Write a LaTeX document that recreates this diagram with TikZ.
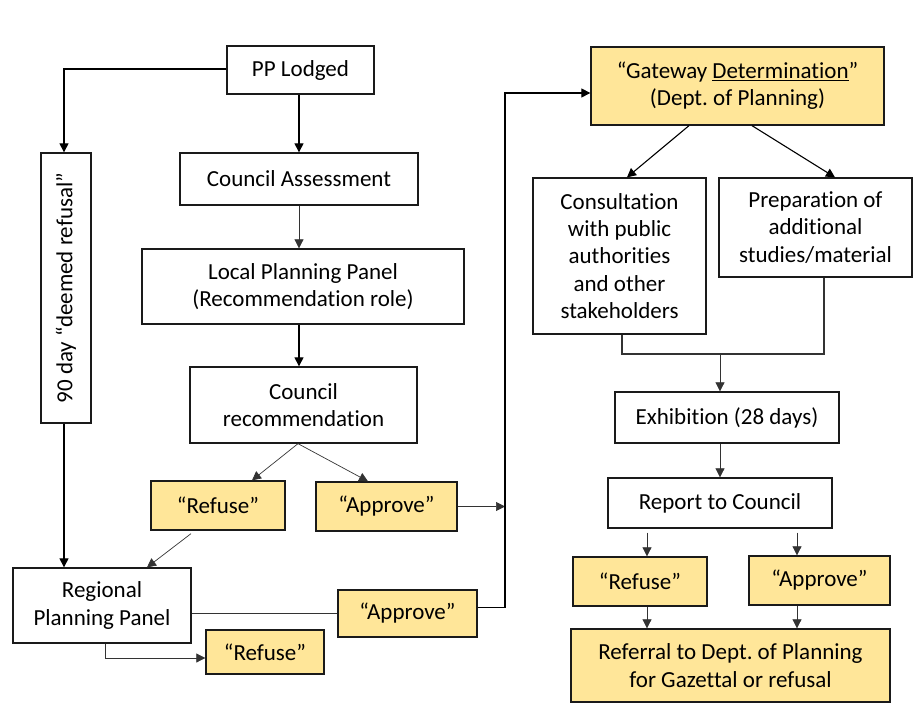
\documentclass[tikz,border=0pt]{standalone}
\usepackage{fontspec}
\setmainfont{Carlito}[Ligatures={NoCommon,TeX}]
\usetikzlibrary{arrows.meta}
\frenchspacing
\definecolor{yel}{HTML}{FFE699}
\definecolor{edge}{HTML}{1A1A1A}
\tikzset{
  txt/.style={font=\fontsize{23}{27.3}\selectfont},
  box/.style={draw=edge, line width=1.3pt, fill=white, align=center, inner sep=1pt, txt},
  ybox/.style={box, fill=yel},
  arr/.style={draw=black, line width=1.1pt, -{Triangle[length=9pt,width=9pt]}},
  tarr/.style={draw=black!80, line width=0.7pt, -{Triangle[length=9pt,width=9pt]}},
  ln/.style={draw=black!80, line width=0.8pt},
}
\begin{document}
\begin{tikzpicture}[x=1pt,y=-1pt]
\useasboundingbox (0,0) rectangle (924,722);
% left column
\node[box, minimum width=147, minimum height=48] (pp) at (300.5,70) {PP Lodged};
\node[box, minimum width=238, minimum height=52] (ca) at (299,179) {Council Assessment};
\node[box, minimum width=322, minimum height=75] (lpp) at (303,286.5) {Local Planning Panel\\(Recommendation role)};
\node[box, minimum width=50, minimum height=270] (ninety) at (66,288) {};
\node[rotate=90, txt] (ninetytxt) at (ninety.center) {90 day “deemed refusal”};
\node[box, minimum width=227, minimum height=76] (cr) at (303.5,405) {Council\\recommendation};
\node[ybox, minimum width=134, minimum height=49] (r1) at (218,505.5) {“Refuse”};
\node[ybox, minimum width=141, minimum height=49] (a1) at (386.5,506.5) {“Approve”};
\node[box, minimum width=178, minimum height=75] (rpp) at (102,605.5) {Regional\\Planning Panel};
\node[ybox, minimum width=139, minimum height=47] (a2) at (407.5,613.5) {“Approve”};
\node[ybox, minimum width=118, minimum height=44] (r2) at (265,652) {“Refuse”};
% right column
\node[ybox, minimum width=293, minimum height=78] (gw) at (737.5,86) {“Gateway \underline{Determination}”\\(Dept. of Planning)};
\node[box, minimum width=173, minimum height=156] (con) at (619.5,256) {Consultation\\with public\\authorities\\and other\\stakeholders};
\node[box, minimum width=193, minimum height=99] (prep) at (815.5,227.5) {Preparation of\\additional\\studies/material};
\node[box, minimum width=224, minimum height=51] (ex) at (727,417.5) {Exhibition (28 days)};
\node[box, minimum width=224, minimum height=50] (rc) at (720,503) {Report to Council};
\node[ybox, minimum width=134, minimum height=49] (r3) at (640,581.5) {“Refuse”};
\node[ybox, minimum width=141, minimum height=49] (a3) at (819.5,580.5) {“Approve”};
\node[ybox, minimum width=319, minimum height=73] (ref) at (730.5,665.5) {Referral to Dept. of Planning\\for Gazettal or refusal};
\coordinate (bus) at (505,0);
\coordinate (join) at (720,354);
\coordinate (x1) at (647,0);
\coordinate (x2) at (797,0);
% connectors left
\draw[arr] ([yshift=1pt]pp.west) -| ([xshift=-2pt]ninety.north);
\draw[arr] (ca.north |- pp.south) -- (ca.north);
\draw[tarr] (ca.south) -- (ca.south |- lpp.north);
\draw[arr] (ca.south |- lpp.south) -- (ca.south |- cr.north);
\draw[arr] ([xshift=-2pt]ninety.south) -- ([xshift=-2pt]ninety.south |- rpp.north);
\draw[tarr] ([xshift=-5.5pt]cr.south) -- ([xshift=34pt]r1.north);
\draw[tarr] ([xshift=-5.5pt]cr.south) -- ([xshift=-18.5pt]a1.north);
\draw[tarr] ([xshift=-27pt,yshift=-3pt]r1.south) -- ([xshift=45pt]rpp.north);
\draw[ln] (a2.west) -- (a2.west -| rpp.east);
\draw[tarr] (a1.east) -- (a1.east -| bus);
\draw[arr] ([yshift=6pt]a2.east) -| ([yshift=-7pt]gw.west -| bus) -- ([yshift=-7pt]gw.west);
\draw[tarr] ([xshift=3pt]rpp.south) |- ([yshift=-6pt]r2.west);
% connectors right
\draw[arr] ([xshift=-48.5pt]gw.south) -- ([xshift=7.5pt]con.north);
\draw[arr] ([xshift=14.5pt]gw.south) -- ([xshift=19.5pt]prep.north);
\draw[ln, line width=1.1pt] ([xshift=2.5pt]con.south) |- (join) -| ([xshift=8.5pt]prep.south);
\draw[tarr] (join) -- (join |- ex.north);
\draw[tarr] (join |- ex.south) -- (join |- rc.north);
\draw[tarr] (rc.south -| x1) ++(0,4) -- (r3.north -| x1);
\draw[tarr] (rc.south -| x2) ++(0,4) -- (a3.north -| x2);
\draw[tarr] (r3.south -| x1) -- (ref.north -| x1);
\draw[tarr] (a3.south -| x2) -- (ref.north -| x2);
\end{tikzpicture}
\end{document}
